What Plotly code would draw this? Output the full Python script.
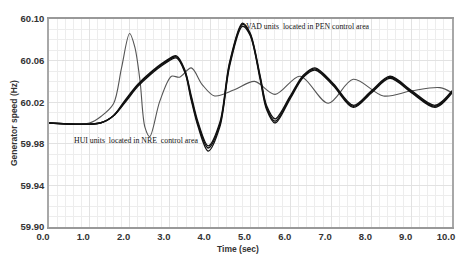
import plotly.graph_objects as go

# HUI units (thin gray curve)
hui_t = [0, 1.0, 1.3, 1.6, 1.8, 2.0, 2.13, 2.26, 2.38, 2.5, 2.75, 3.04, 3.24, 3.53, 3.8, 4.11, 4.6, 5.1, 5.61, 6.23, 6.93, 7.55, 8.3, 9.0, 9.7, 10.0]
hui_v = [60.0, 60.0, 60.0066, 60.0185, 60.053, 60.086, 60.073, 60.040, 59.996, 59.987, 60.021, 60.045, 60.044, 60.053, 60.037, 60.026, 60.032, 60.040, 60.0275, 60.045, 60.019, 60.042, 60.026, 60.031, 60.034, 60.029]

# VAD units (thick black bundle)
vad_t = [0, 1.27, 1.6, 1.89, 2.2, 2.5, 2.87, 3.16, 3.37, 3.53, 3.7, 3.95, 4.24, 4.48, 4.8, 4.99, 5.24, 5.4, 5.61, 5.98, 6.31, 6.6, 7.05, 7.55, 8.0, 8.46, 9.0, 9.58, 10.0]
vad_a = [60.0, 60.0, 60.007, 60.021, 60.036, 60.047, 60.058, 60.0636, 60.05, 60.024, 59.9985, 59.976, 59.9985, 60.0565, 60.095, 60.0855, 60.0437, 60.0147, 60.0017, 60.0243, 60.045, 60.052, 60.037, 60.016, 60.030, 60.044, 60.030, 60.016, 60.030]
vad_b = [60.0, 60.0, 60.007, 60.020, 60.035, 60.046, 60.057, 60.0626, 60.049, 60.022, 59.9965, 59.973, 59.9965, 60.0545, 60.093, 60.0845, 60.0420, 60.0130, 60.0000, 60.0230, 60.044, 60.051, 60.036, 60.015, 60.029, 60.043, 60.029, 60.015, 60.029]
vad_c = [60.0, 60.0, 60.007, 60.022, 60.037, 60.048, 60.059, 60.0646, 60.051, 60.026, 60.0005, 59.978, 60.0005, 60.0580, 60.096, 60.0865, 60.0450, 60.0165, 60.0040, 60.0255, 60.046, 60.053, 60.038, 60.017, 60.031, 60.045, 60.031, 60.017, 60.031]

x_ticks = [0, 1, 2, 3, 4, 5, 6, 7, 8, 9, 10]
x_tick_labels = ["0.0", "1.0", "2.0", "3.0", "4.0", "5.0", "6.0", "7.0", "8.0", "9.0", "10.0"]
y_ticks = [59.90, 59.94, 59.98, 60.02, 60.06, 60.10]
y_tick_labels = ["59.90", "59.94", "59.98", "60.02", "60.06", "60.10"]

fig = go.Figure()
fig.add_trace(go.Scatter(x=hui_t, y=hui_v, mode="lines",
                         line=dict(color="#555555", width=1.1, shape="spline", smoothing=0.9)))
for v in (vad_b, vad_c, vad_a):
    fig.add_trace(go.Scatter(x=vad_t, y=v, mode="lines",
                             line=dict(color="#111111", width=1.4, shape="spline", smoothing=0.9)))

tick_font = dict(family="Arial, Liberation Sans, sans-serif", size=9.5, color="#333333", weight="bold")
title_font = dict(family="Arial, Liberation Sans, sans-serif", size=8.5, color="#333333", weight="bold")
fig.update_layout(
    width=471, height=262,
    margin=dict(l=49, r=19, t=19, b=35),
    paper_bgcolor="white", plot_bgcolor="white",
    showlegend=False,
    xaxis=dict(range=[0, 10], tickvals=x_ticks, ticktext=x_tick_labels,
               tickfont=tick_font, ticks="", ticklabelshift=-6, ticklabelstandoff=0,
               automargin=False,
               showgrid=True, gridcolor="#e2e2e2", gridwidth=1,
               minor=dict(dtick=0.2, showgrid=True, gridcolor="#ededed", gridwidth=1),
               showline=True, linecolor="#999999", linewidth=2, mirror=True,
               zeroline=False),
    yaxis=dict(range=[59.90, 60.10], tickvals=y_ticks, ticktext=y_tick_labels,
               tickfont=tick_font, ticks="", ticklabelstandoff=1,
               automargin=False,
               showgrid=True, gridcolor="#e2e2e2", gridwidth=1,
               minor=dict(dtick=0.01, showgrid=True, gridcolor="#ededed", gridwidth=1),
               showline=True, linecolor="#a8a8a8", linewidth=1.5, mirror=True,
               zeroline=False),
)

# axis titles
fig.add_annotation(x=0.469, y=-0.108, xref="paper", yref="paper", text="Time (sec)",
                   showarrow=False, xanchor="center", yanchor="middle", font=title_font)
fig.add_annotation(x=-0.0868, y=0.5, xref="paper", yref="paper", text="Generator speed (Hz)",
                   textangle=-90, showarrow=False, xanchor="center", yanchor="middle", font=title_font)

ann_font = dict(family="Times New Roman, Liberation Serif, serif", size=7.8, color="#111111")
fig.add_annotation(x=4.85, y=60.0925, xref="x", yref="y", text="VAD units  located in PEN control area",
                   showarrow=False, xanchor="left", yanchor="middle", font=ann_font)
fig.add_annotation(x=0.58, y=59.983, xref="x", yref="y", text="HUI units  located in NRE  control area",
                   showarrow=False, xanchor="left", yanchor="middle", font=ann_font)

fig.write_html("out.html", config={"displayModeBar": False},
               post_script="document.body.style.margin='0';document.body.style.overflow='hidden';")
